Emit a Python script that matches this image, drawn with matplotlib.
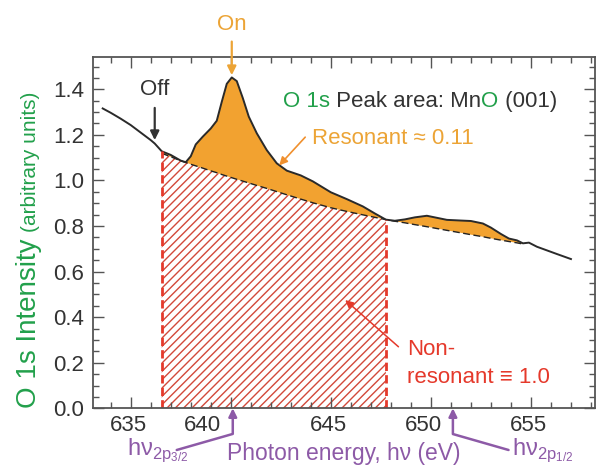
import numpy as np
import matplotlib
matplotlib.use("Agg")
import matplotlib.pyplot as plt
from matplotlib.ticker import MultipleLocator
from matplotlib.transforms import ScaledTranslation

plt.rcParams["font.family"] = ["Liberation Sans", "DejaVu Sans"]
plt.rcParams["mathtext.fontset"] = "custom"
plt.rcParams["mathtext.rm"] = "Liberation Sans"
plt.rcParams["hatch.linewidth"] = 1.0

DARK = "#333333"
GREEN = "#22a04b"
ORANGE = "#eca436"
FILL = "#f2a230"
RED = "#e5392b"
HATCH = "#d2493a"
PURPLE = "#8d5aa7"

# O 1s intensity vs photon energy (eV)
energy = [633.6, 634.0, 634.5, 635.0, 635.5, 636.0, 636.2, 636.55, 637.0, 637.5,
          637.75, 638.0, 638.25, 638.6, 639.0, 639.3, 639.55, 639.8, 640.05, 640.3,
          640.6, 640.9, 641.3, 641.8, 642.3, 642.8, 643.5, 644.1, 645.0, 645.8,
          646.6, 647.2, 647.75, 648.2, 648.7, 649.2, 649.8, 650.3, 650.8, 651.5,
          652.0, 652.6, 653.0, 653.5, 653.9, 654.3, 654.6, 654.9, 655.3, 655.8,
          656.3, 657.0]
intensity = [1.316, 1.297, 1.271, 1.243, 1.210, 1.177, 1.162, 1.128, 1.112, 1.087,
             1.080, 1.106, 1.158, 1.192, 1.228, 1.262, 1.345, 1.424, 1.452, 1.436,
             1.362, 1.280, 1.207, 1.133, 1.075, 1.043, 1.022, 0.996, 0.948, 0.918,
             0.886, 0.855, 0.828, 0.823, 0.829, 0.838, 0.845, 0.836, 0.827, 0.824,
             0.822, 0.811, 0.793, 0.765, 0.745, 0.737, 0.724, 0.727, 0.709, 0.693,
             0.677, 0.655]
nan = np.nan
# non-resonant background under the curve
background = [nan, nan, nan, nan, nan, nan, nan, 1.119, 1.104, 1.086,
              1.079, 1.071, 1.064, 1.054, 1.042, 1.034, 1.026, 1.019, 1.012, 1.005,
              0.997, 0.989, 0.978, 0.965, 0.951, 0.937, 0.918, 0.902, 0.880, 0.864,
              0.849, 0.838, 0.828, 0.821, 0.814, 0.806, 0.797, 0.789, 0.781, 0.770,
              0.762, 0.753, 0.746, 0.738, 0.732, 0.726, 0.721, nan, nan, nan,
              nan, nan]

x_ticks = [635, 640, 645, 650, 655]
y_ticks = [0.0, 0.2, 0.4, 0.6, 0.8, 1.0, 1.2, 1.4]

window_lo, window_hi = 636.55, 647.75   # integration window
on_energy, off_energy = 640.05, 636.2
edge_2p32, edge_2p12 = 640.1, 651.1

E = np.array(energy)
I = np.array(intensity)
B = np.array(background)
has_bg = ~np.isnan(B)
in_win = (E >= window_lo) & (E <= window_hi)

fig = plt.figure(figsize=(5.97, 4.73), dpi=100)
ax = fig.add_axes([0.1566, 0.1368, 0.84, 0.7433])

# non-resonant area (hatched) and resonant excess (orange)
ax.fill_between(E[in_win], 0, B[in_win], facecolor="white", edgecolor=HATCH,
                hatch="////", linewidth=0)
ax.fill_between(E[has_bg], B[has_bg], I[has_bg], where=I[has_bg] >= B[has_bg],
                interpolate=True, facecolor=FILL, linewidth=0)
ax.plot(E[has_bg], B[has_bg], color="#222222", lw=1.0, dashes=(5, 2.5))
ax.plot(E, I, color="#2a2a2a", lw=1.4)
for e in (window_lo, window_hi):
    top = I[E == e][0]
    ax.plot([e, e], [0, top], color=RED, lw=2.0, dashes=(3, 1.5))

ax.set_xlim(633.14, 658.2)
ax.set_ylim(0, 1.543)
ax.set_xticks(x_ticks)
ax.set_xticklabels([str(t) for t in x_ticks])
ax.set_yticks(y_ticks)
ax.set_yticklabels([f"{t:.1f}" for t in y_ticks])
ax.xaxis.set_minor_locator(MultipleLocator(1))
ax.yaxis.set_minor_locator(MultipleLocator(0.05))
ax.tick_params(which="both", direction="in", top=True, right=True,
               color="#555555", labelcolor=DARK, width=1.0)
ax.tick_params(which="major", length=8, labelsize=16)
ax.tick_params(which="minor", length=4.5)
ax.tick_params(axis="x", pad=5)
ax.tick_params(axis="y", pad=7)
for sp in ax.spines.values():
    sp.set_color("#555555")
    sp.set_linewidth(1.3)

# nudge the 640 / 650 labels left of the edge arrows
label_shift = {640: -28, 650: -7}
for t, lab in zip(x_ticks, ax.get_xticklabels()):
    dx = label_shift.get(t, -2) / 100
    lab.set_transform(lab.get_transform() + ScaledTranslation(dx, 0, fig.dpi_scale_trans))

ax.set_xlabel("Photon energy, hν (eV)", color=PURPLE, fontsize=16.5)
ax.xaxis.set_label_coords(0.5, -0.096)

# y label: large and small parts
ylab = fig.text(0.0603, 0.1374, "O 1s Intensity", color=GREEN, fontsize=20,
                rotation=90, rotation_mode="anchor", ha="left", va="baseline")
ax.annotate("(arbitrary units)", xy=(0.0603, 1.0), xycoords=("figure fraction", ylab),
            xytext=(0, 5), textcoords="offset points", color=GREEN, fontsize=15,
            rotation=90, rotation_mode="anchor", ha="left", va="baseline",
            annotation_clip=False)

# On / Off markers
ax.annotate("On", xy=(on_energy, I[E == on_energy][0] + 0.01), xytext=(on_energy, 1.686),
            color=ORANGE, fontsize=16, ha="center", va="center", annotation_clip=False,
            arrowprops=dict(arrowstyle="-|>", color=ORANGE, lw=1.6, mutation_scale=13,
                            shrinkA=3, shrinkB=0))
ax.annotate("Off", xy=(off_energy, I[E == off_energy][0] + 0.015), xytext=(off_energy, 1.401),
            color=DARK, fontsize=16, ha="center", va="center",
            arrowprops=dict(arrowstyle="-|>", color=DARK, lw=1.6, mutation_scale=13,
                            shrinkA=4, shrinkB=0))

# title line with coloured pieces
pieces = [("O 1s", GREEN), (" Peak area: Mn", DARK), ("O", GREEN), (" (001)", DARK)]
prev = ax.text(642.62, 1.322, pieces[0][0], color=pieces[0][1], fontsize=16,
               ha="left", va="baseline")
for txt, col in pieces[1:]:
    prev = ax.annotate(txt, xy=(1, 0), xycoords=prev, color=col, fontsize=16,
                       ha="left", va="bottom")

ax.text(644.07, 1.186, "Resonant ≈ 0.11", color=ORANGE, fontsize=16, ha="left", va="center")
ax.annotate("", xy=(642.42, 1.066), xytext=(643.72, 1.19),
            arrowprops=dict(arrowstyle="-|>", color="#f0902e", lw=1.2, mutation_scale=12,
                            shrinkA=0, shrinkB=0))

ax.text(648.82, 0.2325, "Non-", color=RED, fontsize=16, ha="left", va="baseline")
ax.text(648.82, 0.1097, "resonant ≡ 1.0", color=RED, fontsize=16, ha="left", va="baseline")
ax.annotate("", xy=(645.72, 0.475), xytext=(648.38, 0.27),
            arrowprops=dict(arrowstyle="-|>", color=RED, lw=1.1, mutation_scale=12,
                            shrinkA=0, shrinkB=0))

# Mn 2p edge markers below the axis
for edge, start, ang, sub, tx in [(edge_2p32, 637.3, 16, "3/2", 634.82),
                                  (edge_2p12, 653.88, 164, "1/2", 654.05)]:
    ax.annotate("", xy=(edge, 0), xycoords="data",
                xytext=(start, -0.1186), textcoords=("data", "axes fraction"),
                annotation_clip=False,
                arrowprops=dict(arrowstyle="-|>", color=PURPLE, lw=1.8, mutation_scale=12,
                                shrinkA=0, shrinkB=0,
                                connectionstyle=f"angle,angleA={ang},angleB=90,rad=0"))
    ax.text(tx, -0.133, "hν$_{\\mathregular{2p_{" + sub + "}}}$", color=PURPLE, fontsize=17,
            ha="left", va="baseline", transform=ax.get_xaxis_transform(), clip_on=False)

fig.savefig("out.png", dpi=100, facecolor="white")
